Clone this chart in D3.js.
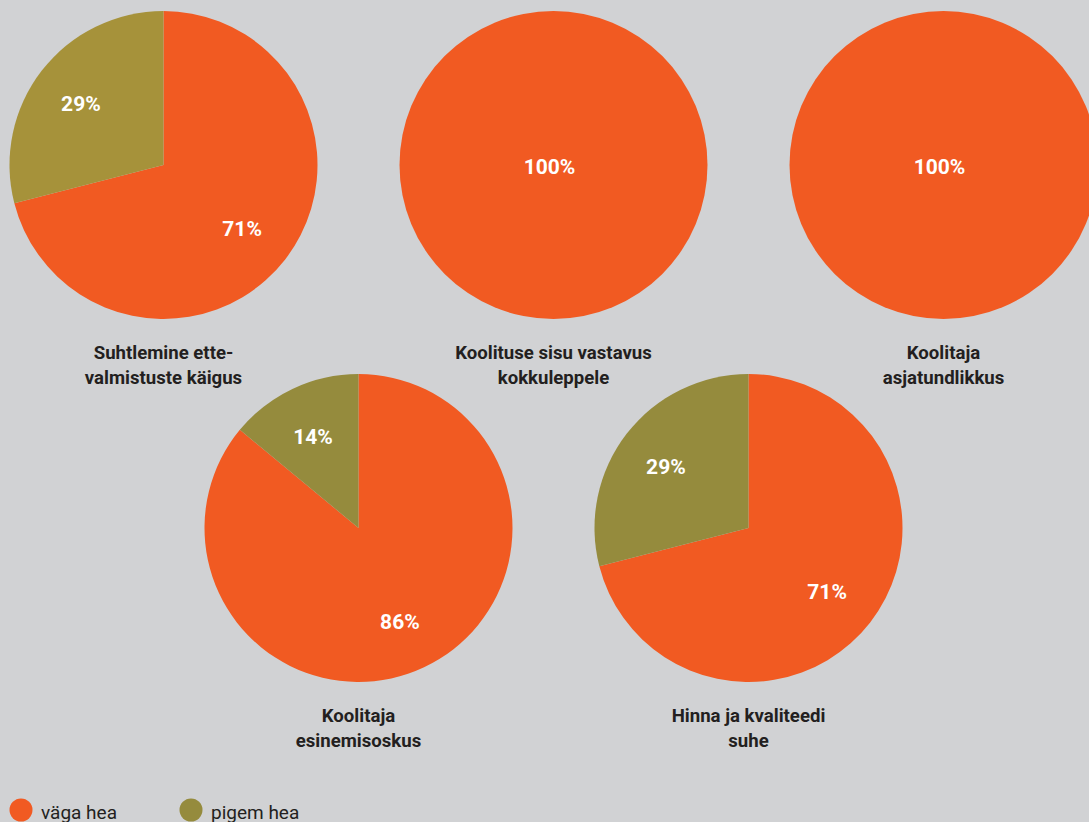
<!DOCTYPE html>
<html>
<head>
<meta charset="utf-8">
<script src="https://cdn.jsdelivr.net/npm/d3@7"></script>
<style>
  html, body { margin: 0; padding: 0; background: #d1d2d4; }
  svg { display: block; }
  .cat { font-family: Roboto, "Open Sans", sans-serif; font-weight: 700; font-size: 18.6px; fill: #231f20; }
  .pct { font-family: Roboto, "Open Sans", sans-serif; font-weight: 700; font-size: 21px; fill: #ffffff; }
  .leg { font-family: Roboto, "Open Sans", sans-serif; font-weight: 400; font-size: 19px; fill: #231f20; }
</style>
</head>
<body>
<svg id="chart"></svg>
<script>
// categories, two lines each
var categories = [
  ["Suhtlemine ette-", "valmistuste käigus"],
  ["Koolituse sisu vastavus", "kokkuleppele"],
  ["Koolitaja", "asjatundlikkus"],
  ["Koolitaja", "esinemisoskus"],
  ["Hinna ja kvaliteedi", "suhe"]
];
var vagaHea   = [71, 100, 100, 86, 71];
var pigemHea  = [29, 0, 0, 14, 29];
var seriesNames = ["väga hea", "pigem hea"];

// grid slot of each pie (column, row)
var slotCol = [0, 1, 2, 0.5, 1.5];
var slotRow = [0, 0, 0, 1, 1];

var orange = "#f15a22";
var olive  = "#958b3d";
var olive1 = "#a6923a";   // first pie is a touch lighter in the source

var width = 1089, height = 822, radius = 154;

var svg = d3.select("#chart").attr("width", width).attr("height", height);

var xScale = d3.scaleLinear().domain([0, 1]).range([163.5, 553.5]);
var yScale = d3.scaleLinear().domain([0, 1]).range([165, 528]);

var pie = d3.pie().sort(null).value(function (d) { return d.value; });
var arc = d3.arc().innerRadius(0).outerRadius(radius);
var labelArc = d3.arc().innerRadius(102).outerRadius(102);

categories.forEach(function (cat, i) {
  var g = svg.append("g")
    .attr("transform", "translate(" + xScale(slotCol[i]) + "," + yScale(slotRow[i]) + ")");

  var data = [
    { key: seriesNames[0], value: vagaHea[i], color: orange },
    { key: seriesNames[1], value: pigemHea[i], color: i === 0 ? olive1 : olive }
  ];
  var arcs = pie(data).filter(function (d) { return d.data.value > 0; });

  g.selectAll("path").data(arcs).enter().append("path")
    .attr("d", arc)
    .attr("fill", function (d) { return d.data.color; });

  g.selectAll("text.pct").data(arcs).enter().append("text")
    .attr("class", "pct")
    .attr("text-anchor", "middle")
    .attr("dy", "0.35em")
    .attr("transform", function (d) {
      if (d.data.value === 100) return "translate(-4,2)";
      var c = labelArc.centroid(d);
      return "translate(" + (c[0] - 2) + "," + (c[1] + 1) + ")";
    })
    .text(function (d) { return d.data.value + "%"; });

  var t = g.append("text").attr("class", "cat").attr("text-anchor", "middle");
  cat.forEach(function (line, k) {
    t.append("tspan").attr("x", 0).attr("y", 194 + k * 24.5).text(line);
  });
});

// legend
var legend = svg.append("g").attr("transform", "translate(0,810)");
var legendX = [21, 191];
[orange, olive].forEach(function (c, i) {
  legend.append("circle").attr("cx", legendX[i]).attr("cy", 0).attr("r", 11.5).attr("fill", c);
  legend.append("text").attr("class", "leg")
    .attr("x", legendX[i] + 20).attr("y", 8.5)
    .text(seriesNames[i]);
});
</script>
</body>
</html>
